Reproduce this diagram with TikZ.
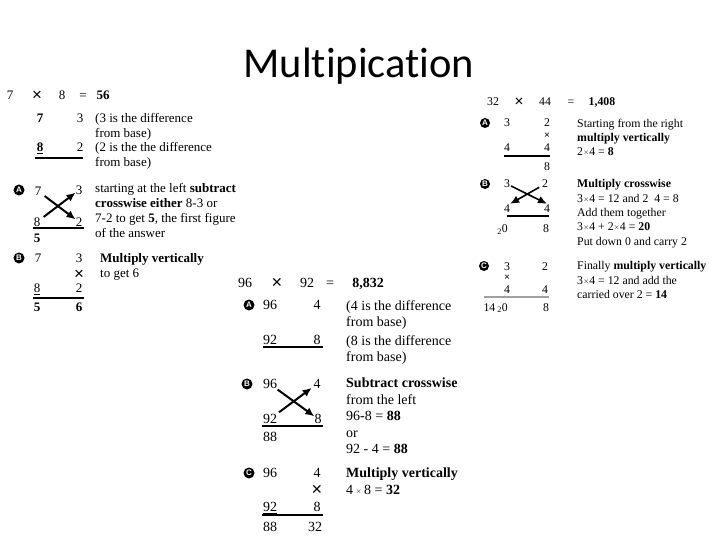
\documentclass[tikz,border=0pt]{standalone}
\usepackage{fontspec}
\setmainfont{Liberation Serif}
\newfontfamily\titlefont[Ligatures={NoCommon,NoRare,NoContextual}]{Carlito}
\newfontfamily\badgefont{Liberation Sans}
\usepackage{graphicx}
\usepackage{tikz}
\usetikzlibrary{arrows.meta,positioning}
\definecolor{RuleGray}{HTML}{A0A0A0}
\newcommand\xmul{\raisebox{1.1pt}{\scriptsize$\times$}}
\newcommand\bigx{\raisebox{-0.8pt}{\scalebox{1.3}{\badgefont ×}}}
\newcommand\smallx{{\badgefont\fontsize{10}{10}\selectfont ×}}

\begin{document}
\begin{tikzpicture}[
 x=1pt,y=-1pt,
 numL/.style={inner sep=0pt,text height=8.8pt,text depth=0pt,font=\fontsize{13}{15}\selectfont},
 numM/.style={inner sep=0pt,text height=9.5pt,text depth=0pt,font=\fontsize{14}{16.5}\selectfont},
 numR/.style={inner sep=0pt,text height=8pt,text depth=0pt,font=\fontsize{11.8}{14.3}\selectfont},
 noteL/.style={inner sep=0pt,align=left,anchor=north west,font=\fontsize{13}{15}\selectfont},
 noteM/.style={inner sep=0pt,align=left,anchor=north west,font=\fontsize{14}{16.5}\selectfont},
 noteR/.style={inner sep=0pt,align=left,anchor=north west,font=\fontsize{11.8}{14.3}\selectfont},
 badge/.style={circle,fill=black,text=white,inner sep=0pt,minimum size=11pt,font=\badgefont\bfseries\fontsize{8}{8}\selectfont},
 crossarrow/.style={-{Latex[length=9pt,width=8pt]},line width=2pt},
 bar/.style={line width=1.2pt}
]
\useasboundingbox (0,0) rectangle (720,540);
\node[font=\titlefont\fontsize{42.5}{42.5}\selectfont,anchor=base,inner sep=0pt] (title) at (359,78) {Multipication};

% 7 x 8
\node[numL] (lh7) at (10,95) {7};
\node[numL] (lhx) at (37,95) {\bigx};
\node[numL] (lh8) at (62,95) {8};
\node[numL] (lheq) at (83,95) {=};
\node[numL] (lhres) at (103,95) {\textbf{56}};
\node[numL] (l07) at (40,118) {\textbf{7}};
\node[numL] (l03) at (80,118) {3};
\node[numL] (l08) at (40,147) {\underline{\textbf{8}}};
\node[numL] (l02) at (80,147) {2};
\draw[bar] (35,158) -- (83,158);
\node[noteL] (l0n1) at (95,113) {(3 is the difference\\from base)};
\node[noteL] (l0n2) at (95,142) {(2 is the the difference\\from base)};

\node[badge] (lA) at (19,190) {A};
\node[numL] (la7) at (38,191) {7};
\node[numL] (la3) at (79,190) {3};
\node[numL] (la8) at (37,222) {\underline{8}};
\node[numL] (la2) at (79,222) {2};
\draw[bar] (33,228) -- (84,228);
\node[numL] (la5) at (37,238) {\textbf{5}};
\draw[crossarrow,shorten <=4pt] (la8) -- (la3);
\draw[crossarrow,shorten <=4pt] (la7) -- (la2);
\node[noteL] (lan) at (95,183) {starting at the left \textbf{subtract}\\\textbf{crosswise either} 8-3 or\\7-2 to get \textbf{5}, the first figure\\of the answer};

\node[badge] (lB) at (19,258) {B};
\node[numL] (lb7) at (38,258) {7};
\node[numL] (lb3) at (79,258) {3};
\node[numL] (lbx) at (79,274) {\bigx};
\node[numL] (lb8) at (37,288) {\underline{8}};
\node[numL] (lb2) at (79,288) {2};
\draw[bar,line width=1.8pt] (33,298) -- (84,298);
\node[numL] (lb5) at (37,307) {\textbf{5}};
\node[numL] (lb6) at (79,307) {\textbf{6}};
\node[noteL] (lbn) at (100,253) {\textbf{Multiply vertically}\\to get 6};

% 96 x 92
\node[numM] (mh96) at (245,283) {96};
\node[numM] (mhx) at (277,283) {\bigx};
\node[numM] (mh92) at (307,283) {92};
\node[numM] (mheq) at (330,283) {=};
\node[numM] (mhres) at (368,283) {\textbf{8,832}};

\node[badge] (mA) at (249,305) {A};
\node[numM] (ma96) at (270,305) {96};
\node[numM] (ma4) at (317,305) {4};
\node[numM] (ma92) at (270,340) {\underline{92}};
\node[numM] (ma8) at (317,340) {8};
\draw[bar] (263,347) -- (323,347);
\node[noteM] (man1) at (346,300) {(4 is the difference\\from base)};
\node[noteM] (man2) at (346,335) {(8 is the difference\\from base)};

\node[badge] (mB) at (247,384) {B};
\node[numM] (mb96) at (270,384) {96};
\node[numM] (mb4) at (317,384) {4};
\node[numM] (mb92) at (270,419) {\underline{92}};
\node[numM] (mb8) at (318,419) {8};
\draw[bar] (262,426) -- (323,426);
\node[numM] (mb88) at (270,437) {88};
\draw[crossarrow,shorten <=1pt] (mb96) -- (mb8);
\draw[crossarrow,shorten <=3pt,shorten >=2pt] (mb92) -- (mb4);
\node[noteM] (mbn) at (346,378) {\textbf{Subtract crosswise}\\from the left\\96-8 = \textbf{88}\\or\\92 - 4 = \textbf{88}};

\node[badge] (mC) at (249,473) {C};
\node[numM] (mc96) at (270,473) {96};
\node[numM] (mc4) at (317,473) {4};
\node[numM] (mcx) at (317,490) {\bigx};
\node[numM] (mc92) at (270,507) {\underline{92}};
\node[numM] (mc8) at (317,507) {8};
\draw[bar] (262,515) -- (323,515);
\node[numM] (mc88) at (270,527) {88};
\node[numM] (mc32) at (315,527) {32};
\node[noteM] (mcn) at (346,468) {\textbf{Multiply vertically}\\4\,\xmul\,8 = \textbf{32}};

% 32 x 44
\node[numR] (rh32) at (493,102) {32};
\node[numR] (rhx) at (519,102) {\bigx};
\node[numR] (rh44) at (545,102) {44};
\node[numR] (rheq) at (571,102) {=};
\node[numR] (rhres) at (602,102) {\textbf{1,408}};

\node[badge,minimum size=10pt] (rA) at (485,123) {A};
\node[numR] (ra3) at (507,123) {3};
\node[numR] (ra2) at (547,123) {2};
\node[numR,text height=5pt] (rax) at (547,136) {\smallx};
\node[numR] (ra4l) at (507,148) {4};
\node[numR] (ra4r) at (547,148) {4};
\draw[bar,line width=2pt] (504,156) -- (550,156);
\node[numR] (ra8) at (547,167) {8};
\node[noteR] (ran) at (577,118.5) {Starting from the right\\\textbf{multiply vertically}\\2\xmul4 = \textbf{8}};

\node[badge,minimum size=10pt] (rB) at (485,184) {B};
\node[numR] (rb3) at (507,184) {3};
\node[numR] (rb2) at (545,184) {2};
\node[numR] (rb4l) at (507,208) {4};
\node[numR] (rb4r) at (547,208) {4};
\draw[bar,line width=2pt] (507,216) -- (549,216);
\node[numR,anchor=base east,text height=,text depth=] (rb0) at (508,233) {\textsubscript{2}0};
\node[numR] (rb8) at (546,229) {8};
\draw[crossarrow,line width=1.6pt,shorten <=1pt] (rb3) -- (rb4r.north);
\draw[crossarrow,line width=1.6pt,shorten <=3pt] (rb2) -- (rb4l.north east);
\node[noteR] (rbn) at (577,179.5) {\textbf{Multiply crosswise}\\3\xmul4 = 12 and 2\enspace 4 = 8\\Add them together\\3\xmul4 + 2\xmul4 = \textbf{20}\\Put down 0 and carry 2};

\node[badge,minimum size=10pt] (rC) at (484,266) {C};
\node[numR] (rc3) at (507,266) {3};
\node[numR] (rc2) at (545,266) {2};
\node[numR,text height=5pt] (rcx) at (507,278) {\smallx};
\node[numR] (rc4l) at (507,289) {4};
\node[numR] (rc4r) at (545,289) {4};
\draw[bar,RuleGray,line width=1.5pt] (484,297) -- (549,297);
\node[numR,anchor=base east,text height=,text depth=] (rc0) at (508,311) {14\,\textsubscript{2}0};
\node[numR] (rc8) at (546,307) {8};
\node[noteR] (rcn) at (577,261.5) {Finally \textbf{multiply vertically}\\3\xmul4 = 12 and add the\\carried over 2 = \textbf{14}};
\end{tikzpicture}
\end{document}
